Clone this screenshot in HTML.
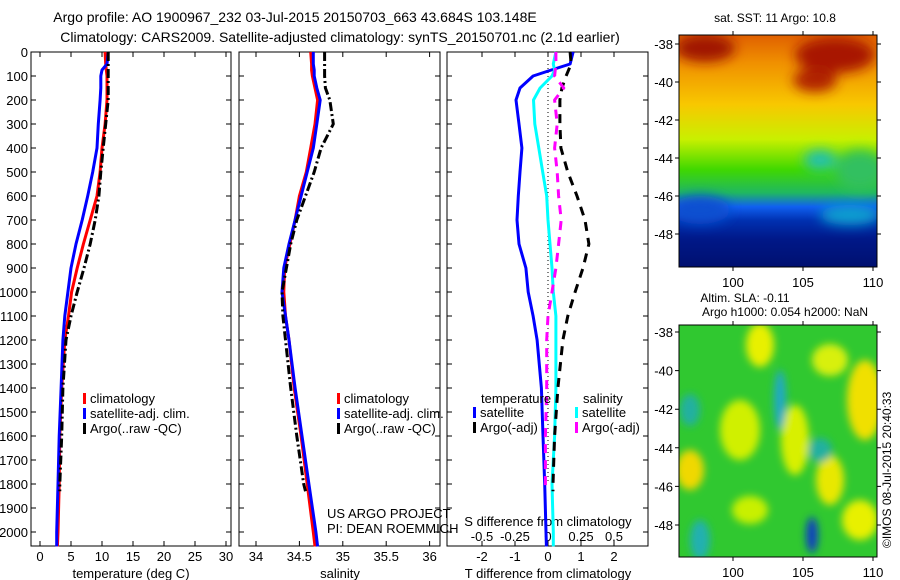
<!DOCTYPE html>
<html><head><meta charset="utf-8"><style>
body{margin:0;background:#fff;}
svg{display:block;font-family:"Liberation Sans",sans-serif;}
</style></head><body>
<svg id="c" width="900" height="580" viewBox="0 0 900 580" xmlns="http://www.w3.org/2000/svg">
<defs>
<filter id="bl" x="-50%" y="-50%" width="200%" height="200%"><feGaussianBlur stdDeviation="6"/></filter>
<filter id="bl2" x="-50%" y="-50%" width="200%" height="200%"><feGaussianBlur stdDeviation="4"/></filter>
<linearGradient id="sst" x1="0" y1="0" x2="0" y2="1">
<stop offset="0" stop-color="#e06000"/><stop offset="0.12" stop-color="#f09000"/><stop offset="0.3" stop-color="#f8c800"/>
<stop offset="0.45" stop-color="#c8f000"/><stop offset="0.58" stop-color="#40d800"/><stop offset="0.68" stop-color="#20b860"/>
<stop offset="0.74" stop-color="#1060f0"/><stop offset="0.8" stop-color="#0030b0"/><stop offset="0.88" stop-color="#001888"/><stop offset="1" stop-color="#001070"/>
</linearGradient>
<clipPath id="m1"><rect x="679" y="35" width="198" height="232"/></clipPath>
<clipPath id="m2"><rect x="679" y="325" width="198" height="232"/></clipPath>
</defs>
<text x="295" y="22" font-size="14" text-anchor="middle">Argo profile: AO 1900967_232 03-Jul-2015 20150703_663 43.684S 103.148E</text>
<text x="340" y="42" font-size="14" text-anchor="middle">Climatology: CARS2009. Satellite-adjusted climatology: synTS_20150701.nc (2.1d earlier)</text>

<g clip-path="url(#m1)">
<rect x="679" y="35" width="198" height="232" fill="url(#sst)"/>
<g filter="url(#bl)">
<ellipse cx="705" cy="48" rx="30" ry="14" fill="#a01800"/>
<ellipse cx="835" cy="55" rx="40" ry="18" fill="#a81800"/>
<ellipse cx="815" cy="80" rx="22" ry="12" fill="#b02000"/>
<ellipse cx="820" cy="160" rx="16" ry="10" fill="#20c0b0"/>
<ellipse cx="860" cy="170" rx="25" ry="20" fill="#30c060"/>
<ellipse cx="700" cy="210" rx="30" ry="14" fill="#1050d0"/>
<ellipse cx="850" cy="215" rx="30" ry="10" fill="#10a0d0"/>
</g>
</g>
<rect x="679" y="35" width="198" height="232" fill="none" stroke="#000"/>
<text x="775" y="22" font-size="12" text-anchor="middle">sat. SST: 11 Argo: 10.8</text>

<g clip-path="url(#m2)">
<rect x="679" y="325" width="198" height="232" fill="#30c830"/>
<g filter="url(#bl2)">
<ellipse cx="760" cy="345" rx="14" ry="22" fill="#e8f000"/>
<ellipse cx="830" cy="360" rx="18" ry="16" fill="#d8f010"/>
<ellipse cx="865" cy="400" rx="18" ry="40" fill="#f0e000"/>
<ellipse cx="740" cy="430" rx="20" ry="30" fill="#d0f000"/>
<ellipse cx="795" cy="440" rx="14" ry="35" fill="#d8f000"/>
<ellipse cx="690" cy="470" rx="14" ry="20" fill="#f0d800"/>
<ellipse cx="830" cy="480" rx="14" ry="25" fill="#e8e800"/>
<ellipse cx="750" cy="510" rx="18" ry="14" fill="#c8f000"/>
<ellipse cx="860" cy="520" rx="18" ry="20" fill="#e8f000"/>
<ellipse cx="780" cy="400" rx="6" ry="30" fill="#20a8c8"/>
<ellipse cx="690" cy="410" rx="10" ry="16" fill="#20b0a0"/>
<ellipse cx="820" cy="450" rx="12" ry="12" fill="#20b0a0"/>
<ellipse cx="700" cy="540" rx="10" ry="20" fill="#20b0b0"/>
<ellipse cx="812" cy="535" rx="6" ry="18" fill="#1040c0"/>
</g>
</g>
<rect x="679" y="325" width="198" height="232" fill="none" stroke="#000"/>
<text x="745" y="302" font-size="12" text-anchor="middle">Altim. SLA: -0.11</text>
<text x="785" y="316" font-size="12" text-anchor="middle">Argo h1000: 0.054 h2000: NaN</text>
<text transform="translate(891,548) rotate(-90)" font-size="12">©IMOS 08-Jul-2015 20:40:33</text>
<g id="g"></g>
</svg>
<script>
// depth grid (m)
const depths=[0,50,75,100,150,200,300,400,500,600,700,800,900,1000,1100,1200,1400,1600,1800,2000,2060];
// temperature panel
const tClim=[10.5,10.6,10.7,10.8,10.8,10.8,10.5,10.0,9.7,9.2,8.1,7.0,6.0,5.1,4.6,4.0,3.5,3.2,3.1,2.9,2.8];
const tSat=[11.0,10.8,10.0,9.8,9.8,9.7,9.4,9.2,8.5,7.7,6.8,5.8,5.0,4.5,4.0,3.7,3.4,3.1,2.9,2.7,2.7];
const argoDepths=[0,50,100,150,200,300,400,500,600,700,800,900,1000,1100,1200,1400,1600,1800,1830];
const tArgo=[11.0,11.0,11.0,11.0,11.0,10.6,10.2,9.8,9.5,8.9,8.1,7.1,6.0,5.0,4.2,3.7,3.5,3.2,3.2];
// salinity panel
const sClim=[34.63,34.64,34.64,34.65,34.68,34.71,34.68,34.63,34.58,34.50,34.45,34.39,34.33,34.32,34.34,34.38,34.44,34.52,34.59,34.66,34.68];
const sSat=[34.66,34.66,34.67,34.67,34.70,34.74,34.70,34.66,34.59,34.52,34.45,34.38,34.32,34.30,34.34,34.38,34.45,34.53,34.61,34.69,34.71];
const sArgo=[34.79,34.79,34.79,34.80,34.85,34.89,34.75,34.67,34.57,34.47,34.40,34.35,34.30,34.31,34.34,34.40,34.47,34.55,34.57];
// difference panel
const dTSat=[0.76,0.67,0.1,-0.45,-0.85,-0.97,-0.88,-0.79,-0.85,-0.9,-0.94,-0.88,-0.67,-0.6,-0.45,-0.33,-0.2,-0.15,-0.1,-0.06,-0.05];
const dSSat=[0.06,0.04,0.05,0.03,-0.06,-0.11,-0.1,-0.07,-0.04,-0.01,0.0,0.015,0.03,0.04,0.06,0.06,0.06,0.05,0.03,0.04,0.04];
const dTArgo=[0.67,0.7,0.55,0.42,0.36,0.36,0.39,0.6,0.88,1.12,1.24,1.06,0.82,0.6,0.45,0.3,0.2,0.15,0.15];
const dSArgo=[0.06,0.06,0.05,0.12,0.05,0.07,0.05,0.07,0.08,0.1,0.08,0.06,0.03,0.0,-0.01,-0.01,-0.02,-0.02,-0.02];
const yTicks=[0,100,200,300,400,500,600,700,800,900,1000,1100,1200,1300,1400,1500,1600,1700,1800,1900,2000];
const tTicks=[0,5,10,15,20,25,30];
const sTicks=[34,34.5,35,35.5,36];
const dTTicks=[-2,-1,0,1,2];
const dSTicks=[-0.5,-0.25,0,0.25,0.5];
const dSTickLabels=["-0.5","-0.25","0","0.25","0.5"];
const latTicks=[-38,-40,-42,-44,-46,-48];
const lonTicks=[100,105,110];

const NS='http://www.w3.org/2000/svg', G=document.getElementById('g');
function el(t,a,txt){const e=document.createElementNS(NS,t);for(const k in a)e.setAttribute(k,a[k]);if(txt!==undefined)e.textContent=txt;G.appendChild(e);return e;}
const Y=d=>52+d*0.24;
const xT=v=>40+v*6.2, xS=v=>256+(v-34)*86.8, xDT=v=>548+v*33, xDS=v=>548+v*132;
const panels=[[31,231],[239,440],[447,648]];
panels.forEach((p,i)=>{
  const r=el('rect',{x:p[0],y:52,width:p[1]-p[0],height:494,fill:'none',stroke:'#000'});
  
  
  yTicks.forEach(d=>{
    const t=el('path',{d:`M${p[0]} ${Y(d)}h5M${p[1]} ${Y(d)}h-5`,stroke:'#000'});
    
    
  });
});
yTicks.forEach(d=>{
  const t=el('text',{x:28,y:Y(d)+5,'font-size':13,'text-anchor':'end'},String(d));
  
  
});
function xax(ticks,fx,labels,ly,pi){
  ticks.forEach((v,i)=>{
    const t=el('path',{d:`M${fx(v)} 546v-5M${fx(v)} 52v5`,stroke:'#000'});
    
    
    const l=el('text',{x:fx(v),y:ly,'font-size':13,'text-anchor':'middle'},labels?labels[i]:String(v));
    
    
  });
}
xax(tTicks,xT,null,561);
xax(sTicks,xS,null,561);
xax(dTTicks,xDT,null,561);
dSTicks.forEach((v,i)=>{
  const l=el('text',{x:xDS(v),y:541,'font-size':13,'text-anchor':'middle'},dSTickLabels[i]);
  
  
});
function lbl(x,y,s,name,anchor,size){const t=el('text',{x:x,y:y,'font-size':size||13,'text-anchor':anchor||'start'},s);return t;}
lbl(131,578,'temperature (deg C)','x-axis-title-temperature','middle');
lbl(340,578,'salinity','x-axis-title-salinity','middle');
lbl(548,578,'T difference from climatology','x-axis-title-t-diff','middle');
lbl(548,526,'S difference from climatology','s-diff-axis-title','middle');
lbl(327,518,'US ARGO PROJECT','project-credit');
lbl(327,533,'PI: DEAN ROEMMICH','pi-credit');

function line(ds,vs,fx,col,w,dash,name){
  const pts=ds.map((d,i)=>fx(vs[i]).toFixed(1)+','+Y(d).toFixed(1)).join(' ');
  const a={points:pts,fill:'none',stroke:col,'stroke-width':w,'stroke-linejoin':'round'};
  if(dash)a['stroke-dasharray']=dash;
  const e=el('polyline',a);
  
  
}
// zero line
const z=el('line',{x1:548,y1:52,x2:548,y2:Y(1800),stroke:'#000','stroke-dasharray':'1 3'});



line(depths,tClim,xT,'#ff0000',3,null,'temp-climatology-line');
line(depths,tSat,xT,'#0000ff',3,null,'temp-satellite-line');
line(argoDepths,tArgo,xT,'#000',3,'9 3 2 3','temp-argo-line');
line(depths,sClim,xS,'#ff0000',3,null,'sal-climatology-line');
line(depths,sSat,xS,'#0000ff',3,null,'sal-satellite-line');
line(argoDepths,sArgo,xS,'#000',3,'9 3 2 3','sal-argo-line');
line(depths,dTSat,xDT,'#0000ff',3,null,'t-diff-satellite-line');
line(depths,dSSat,xDS,'#00ffff',3,null,'s-diff-satellite-line');
line(argoDepths,dTArgo,xDT,'#000',3,'9 7','t-diff-argo-line');
line(argoDepths,dSArgo,xDS,'#ff00ff',3,'9 7','s-diff-argo-line');

function leg(x,y,col,s,name){
  const m=el('rect',{x:x,y:y-10,width:3,height:11,fill:col});
  
  
  lbl(x+7,y,s,name);
}
leg(83,403,'#ff0000','climatology','legend-temp-climatology');
leg(83,418,'#0000ff','satellite-adj. clim.','legend-temp-satellite');
leg(83,433,'#000','Argo(..raw -QC)','legend-temp-argo');
leg(337,403,'#ff0000','climatology','legend-sal-climatology');
leg(337,418,'#0000ff','satellite-adj. clim.','legend-sal-satellite');
leg(337,433,'#000','Argo(..raw -QC)','legend-sal-argo');
lbl(481,403,'temperature','legend-temperature-heading');
leg(473,417,'#0000ff','satellite','legend-t-diff-satellite');
leg(473,432,'#000','Argo(-adj)','legend-t-diff-argo');
lbl(583,403,'salinity','legend-salinity-heading');
leg(575,417,'#00ffff','satellite','legend-s-diff-satellite');
leg(575,432,'#ff00ff','Argo(-adj)','legend-s-diff-argo');

// map axes
const lonX=v=>733+(v-100)*14;
function mapAx(top,bottom,latY,prefix){
  latTicks.forEach(v=>{
    const y=latY(v);
    const t=el('path',{d:`M679 ${y}h-4M877 ${y}h4`,stroke:'#000'});
    
    
    lbl(673,y+5,String(v),prefix+'-lat-label','end');
  });
  lonTicks.forEach(v=>{
    const x=lonX(v);
    const t=el('path',{d:`M${x} ${bottom}v4M${x} ${top}v-4`,stroke:'#000'});
    
    
    lbl(x,bottom+20,String(v),prefix+'-lon-label','middle');
  });
}
mapAx(35,267,v=>44+(-38-v)*19,'sst-map');
mapAx(325,557,v=>332+(-38-v)*19.3,'sla-map');
</script>
</body></html>
